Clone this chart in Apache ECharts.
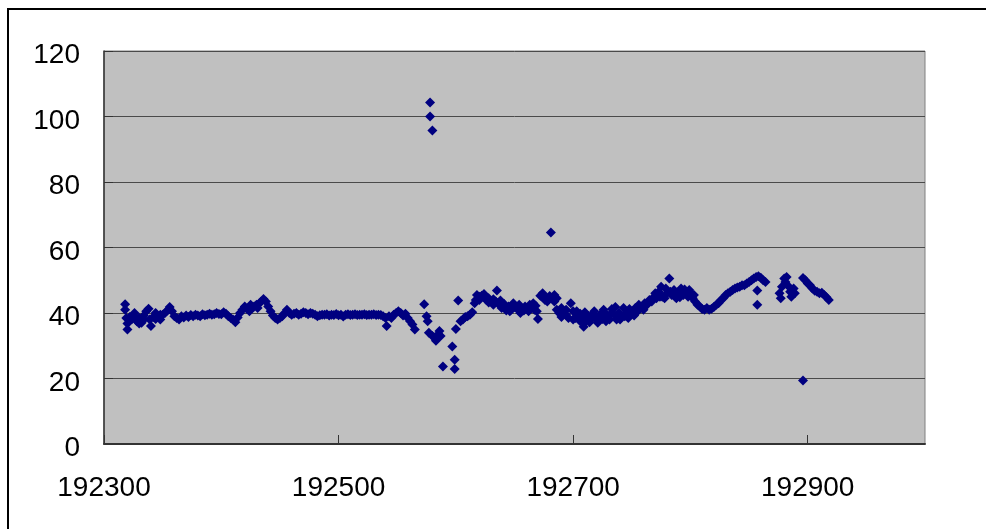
<!DOCTYPE html>
<html>
<head>
<meta charset="utf-8">
<script src="https://cdn.jsdelivr.net/npm/echarts@6/dist/echarts.min.js"></script>
<style>
html,body{margin:0;padding:0;background:#fff;}
#chart{width:986px;height:529px;}
</style>
</head>
<body>
<div id="chart"></div>
<script>
// ---- data ----
const xValues = [
192318,192318,192319,192320,192320,192322,192324,192326,192328,192330,192332,192334,192336,192338,192339,192340,
192342,192344,192346,192348,192350,192352,192354,192356,192358,192360,192362,192364,192366,192368,192370,192372,
192374,192376,192378,192380,192382,192384,192386,192388,192390,192392,192394,192396,192398,192400,192402,192404,
192406,192408,192410,192412,192414,192416,192418,192420,192422,192424,192426,192428,192430,192432,192434,192436,
192438,192440,192442,192444,192446,192448,192450,192452,192454,192456,192458,192460,192462,192464,192466,192468,
192470,192472,192474,192476,192478,192480,192482,192484,192486,192488,192490,192492,192494,192496,192498,192500,
192502,192504,192506,192508,192510,192512,192514,192516,192518,192520,192522,192524,192526,192528,192530,192532,
192534,192536,192538,192540,192541,192543,192545,192547,192549,192551,192553,192555,192557,192559,192561,192563,
192565,192573,192575,192576,192577,192578,192578,192580,192580,192582,192583,192584,192585,192586,192587,192589,
192597,192599,192599,192600,192602,192604,192606,192608,192610,192612,192614,192616,192617,192618,192620,192622,
192624,192626,192628,192630,192632,192634,192635,192637,192639,192641,192643,192645,192647,192649,192651,192653,
192655,192657,192659,192661,192663,192665,192667,192669,192670,192672,192674,192676,192678,192680,192681,192682,
192684,192686,192688,192690,192692,192694,192696,192698,192700,192702,192704,192706,192708,192709,192711,192713,
192715,192717,192719,192721,192723,192725,192727,192729,192731,192733,192735,192737,192739,192741,192743,192745,
192747,192749,192751,192753,192755,192757,192759,192761,192763,192765,192767,192769,192771,192773,192775,192776,
192778,192780,192782,192784,192786,192788,192790,192792,192794,192796,192798,192800,192802,192804,192806,192808,
192810,192812,192814,192816,192818,192820,192822,192824,192826,192828,192830,192832,192834,192836,192838,192840,
192842,192844,192846,192848,192850,192852,192854,192856,192858,192860,192862,192864,192857,192857,
192876,192877,192878,192880,192881,192882,192884,192885,192886,192888,192889,
192896,192896,192898,192900,192902,192904,192906,192908,192910,192912,192914,192916,192918,
192326,192330,192334,192344,192348,192425,192431,
192620,192624,192628,192632,192638,192642,192646,192650,192654,192658,192662,192666,192668,192674,192678,192684,192686,
192690,192694,192700,192703,192706,192710,192714,192718,192722,192726,192728,192732,192736,192740,192744,192748,192752,192756,192760,
192770,192774,192779,192783,192787,192791,192795,192799,192803
];
const yValues = [
42.7,41.0,38.5,36.8,35.0,38.8,38.2,39.0,37.5,38.5,37.0,39.2,40.5,41.3,38.0,36.0,
38.8,38.2,39.0,38.0,39.5,40.0,40.8,41.8,40.5,39.0,38.5,38.0,39.0,38.6,39.2,38.8,
39.4,39.0,39.5,39.2,39.0,39.6,39.3,39.5,39.8,39.5,39.6,40.0,39.7,39.6,40.2,39.8,
39.0,38.5,38.0,37.2,38.6,40.0,41.0,42.0,41.2,40.5,41.5,42.0,42.5,42.8,43.5,44.3,
43.5,42.0,40.5,39.2,38.5,38.0,38.5,39.0,40.0,41.0,40.0,39.5,39.8,40.0,39.5,39.8,
40.2,40.0,39.6,40.0,39.8,39.5,39.0,39.3,39.5,39.5,39.6,39.2,39.5,39.4,39.7,39.3,
39.5,38.9,39.5,39.6,39.4,39.5,39.6,39.4,39.5,39.5,39.6,39.4,39.5,39.5,39.6,39.4,
39.5,39.4,39.0,38.5,36.0,39.0,38.5,39.5,40.0,40.5,40.0,39.2,39.8,38.5,37.5,36.5,
35.0,42.7,39.0,37.5,34.0,104.3,100.0,95.7,33.0,32.5,31.5,32.5,33.5,34.5,33.0,23.7,
29.8,25.7,22.9,35.1,43.8,37.5,38.0,38.8,39.0,39.5,40.2,43.0,44.0,45.5,45.0,45.3,
44.8,44.0,44.5,43.5,42.5,43.5,46.9,42.5,41.5,42.8,40.8,42.0,41.0,43.0,42.0,41.0,
40.0,41.0,42.0,41.5,42.5,41.8,41.0,40.5,38.2,45.3,44.8,44.0,44.5,45.2,64.6,44.5,
43.5,41.0,40.0,41.5,40.5,39.5,38.5,43.0,40.5,38.5,39.5,37.5,38.8,35.8,37.5,39.0,
38.0,39.8,38.5,37.0,39.5,38.2,40.0,39.0,38.0,41.2,39.5,38.0,40.0,39.0,41.5,40.0,
38.5,39.5,40.5,41.5,40.5,41.5,42.0,43.0,42.5,44.0,43.5,45.0,44.5,46.5,48.0,45.0,
44.5,46.0,50.5,45.5,47.0,44.5,46.5,47.5,45.5,46.5,45.0,46.0,44.5,43.5,42.5,42.0,
41.2,41.0,41.5,41.0,41.3,41.8,42.5,43.0,44.0,44.5,45.5,46.0,46.5,47.0,47.5,47.8,
48.0,48.5,48.5,49.0,49.5,50.0,50.5,51.0,51.2,50.8,50.0,49.5,46.9,42.5,
46.0,44.5,48.0,50.5,49.5,51.0,48.0,46.5,45.0,47.5,46.0,
50.7,19.4,50.0,49.0,48.5,47.5,46.8,46.5,46.0,46.2,45.5,44.8,44.0,
40.0,36.8,38.0,40.0,39.5,42.5,41.5,
44.0,45.8,43.2,44.2,43.8,41.5,40.5,41.8,42.5,40.8,40.5,43.0,42.2,46.0,43.5,45.5,44.5,
38.8,41.0,38.0,40.5,39.8,40.2,37.2,40.5,38.8,41.0,37.5,39.8,41.8,38.0,39.0,41.2,39.2,42.5,41.0,
46.0,45.0,47.5,46.5,45.0,44.8,47.2,47.0,45.5
];
const xTickLabels = [192300, 192500, 192700, 192900];
const xMin = 192300, xMax = 193000;
const yMin = 0, yMax = 120, yStep = 20;

const points = xValues.map((x, i) => [x, yValues[i]]);

const chart = echarts.init(document.getElementById('chart'), null, {renderer: 'canvas'});
const font = '"Liberation Sans", Arial, sans-serif';
chart.setOption({
  backgroundColor: '#ffffff',
  animation: false,
  graphic: [{
    type: 'rect',
    shape: {x: 8, y: 9, width: 1000, height: 600},
    style: {fill: 'none', stroke: '#000', lineWidth: 2},
    silent: true
  }],
  grid: {
    left: 104, right: 61, top: 51, bottom: 85,
    show: true, backgroundColor: '#c0c0c0', borderColor: '#808080', borderWidth: 1
  },
  xAxis: {
    type: 'value', min: xMin, max: xMax,
    axisLine: {show: true, onZero: false, lineStyle: {color: '#333', width: 2}},
    axisTick: {show: true, inside: true, length: 9, customValues: xTickLabels, lineStyle: {color: '#333', width: 1}},
    axisLabel: {customValues: xTickLabels, color: '#000', fontFamily: font, fontSize: 28, margin: 30,
      formatter: v => String(v)},
    splitLine: {show: false}
  },
  yAxis: {
    type: 'value', min: yMin, max: yMax, interval: yStep,
    axisLine: {show: true, lineStyle: {color: '#333', width: 1.5}},
    axisTick: {show: true, inside: true, length: 9, lineStyle: {color: '#333', width: 1}},
    axisLabel: {color: '#000', fontFamily: font, fontSize: 28, margin: 24, verticalAlign: 'top', lineHeight: 9},
    splitLine: {show: true, lineStyle: {color: '#4a4a4a', width: 1}}
  },
  series: [{
    type: 'scatter',
    data: points,
    symbol: 'diamond',
    symbolSize: 10,
    itemStyle: {color: '#000080', opacity: 1}
  }]
});
</script>
</body>
</html>
